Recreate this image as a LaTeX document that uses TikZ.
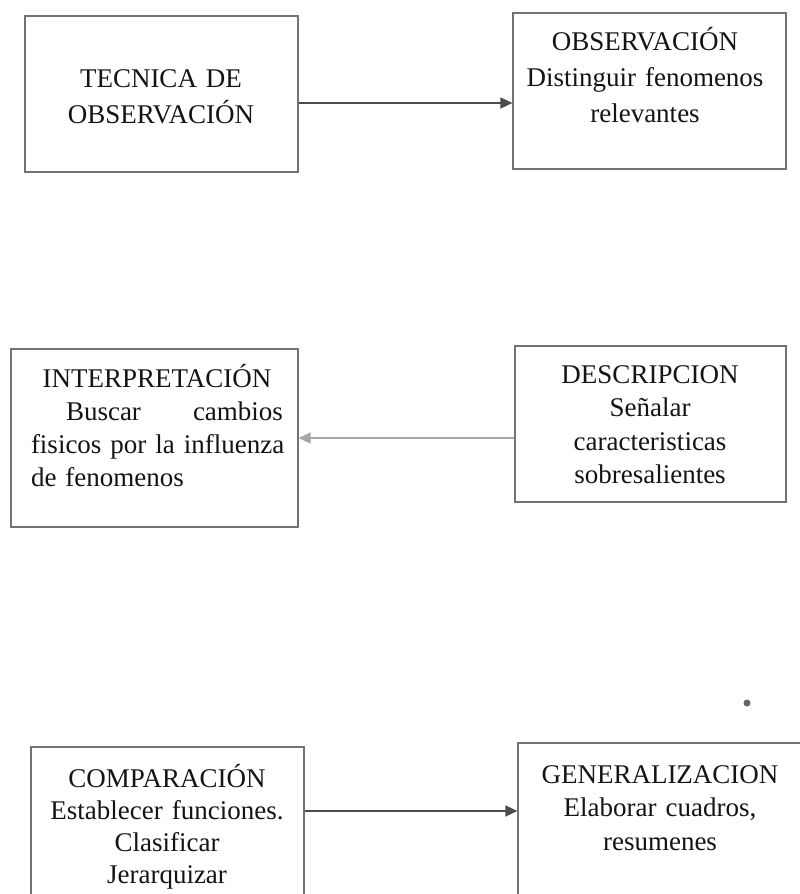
\documentclass[tikz,border=0pt]{standalone}
\usepackage{fontspec}
\setmainfont{Liberation Serif}
\usetikzlibrary{arrows.meta}
\begin{document}
\begin{tikzpicture}[x=1pt,y=-1pt,
  box/.style={draw=black!55, line width=1.2pt, rectangle, inner sep=0pt},
  txt/.style={anchor=base, inner sep=0pt, text=black!92, align=center},
  arr/.style={draw=black!70, line width=1.5pt, -{Triangle[length=12pt,width=11pt]}},
  arrlight/.style={draw=black!35, line width=1.5pt, -{Triangle[length=12pt,width=11pt]}}]
\useasboundingbox (0,0) rectangle (800,894);
\fill[white] (0,0) rectangle (800,894);
\clip (0,0) rectangle (800,894);
% boxes
\node[box, minimum width=273pt, minimum height=156pt] (b1) at (161.5,94) {};
\node[box, minimum width=273pt, minimum height=156pt] (b2) at (649.5,91) {};
\node[box, minimum width=287pt, minimum height=178pt] (b3) at (154.5,438) {};
\node[box, minimum width=271pt, minimum height=156pt] (b4) at (650.5,424) {};
\node[box, minimum width=273pt, minimum height=190pt] (b5) at (167.5,842) {};
\node[box, minimum width=312pt, minimum height=186pt] (b6) at (674,836) {};
% texts
\node[txt, text width=260pt, font=\fontsize{27}{36}\selectfont] (t1) at (161,87)
  {TECNICA DE\\OBSERVACIÓN};
\node[txt, text width=260pt, font=\fontsize{27}{36}\selectfont] (t2) at (645,50)
  {OBSERVACIÓN\\Distinguir fenomenos\\relevantes};
\node[txt, text width=252pt, font=\fontsize{27}{33}\selectfont] (t3) at (157,387)
  {INTERPRETACIÓN\\
   \makebox[252pt][s]{\hspace*{35pt}Buscar\hfill cambios}\\
   \makebox[252pt][s]{fisicos por la influenza}\\
   \makebox[252pt][l]{de fenomenos}};
\node[txt, text width=260pt, font=\fontsize{27}{33.5}\selectfont] (t4) at (650,383)
  {DESCRIPCION\\Señalar\\caracteristicas\\sobresalientes};
\node[txt, text width=260pt, font=\fontsize{27}{32}\selectfont] (t5) at (167,787)
  {COMPARACIÓN\\Establecer funciones.\\Clasificar\\Jerarquizar};
\node[txt, text width=270pt, font=\fontsize{27}{33.5}\selectfont] (t6) at (660,783)
  {GENERALIZACION\\Elaborar cuadros,\\resumenes};
% dot
\node[circle, fill=black!60, inner sep=0pt, minimum size=7pt] (dot) at (747,703) {};
% arrows
\draw[arr] ([yshift=-9pt]b1.east) -- ([yshift=-9pt]b1.east -| b2.west);
\draw[arrlight] (b3.east -| b4.west) -- (b3.east);
\draw[arr] ([yshift=31pt]b5.east) -- ([yshift=31pt]b5.east -| b6.west);
\end{tikzpicture}
\end{document}
